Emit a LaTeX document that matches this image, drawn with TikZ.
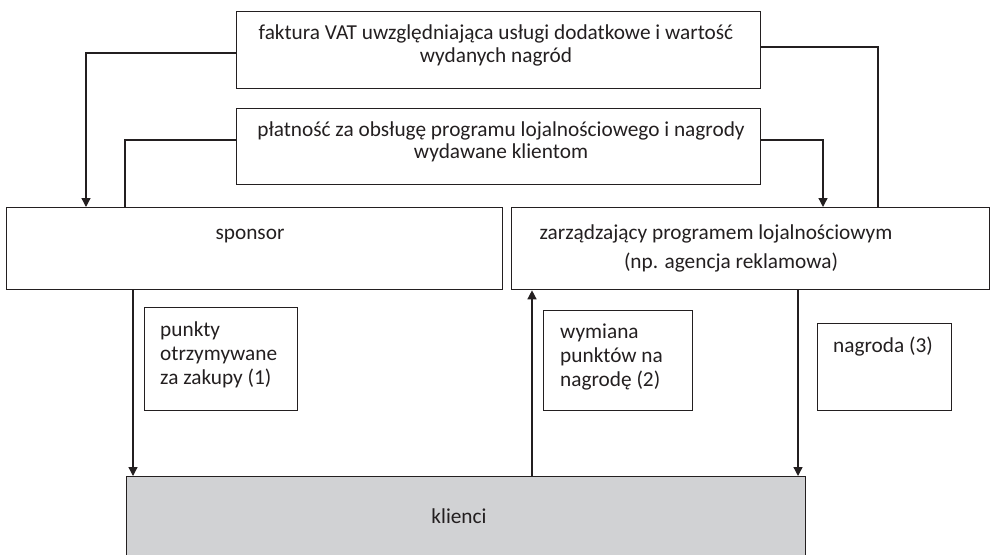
\documentclass[tikz,border=0pt]{standalone}
\usepackage{fontspec}
\setmainfont{Carlito}
\usetikzlibrary{arrows.meta, positioning}
\definecolor{inkgray}{RGB}{35, 31, 32}
\definecolor{clientgray}{RGB}{209, 210, 212}

\begin{document}
\begin{tikzpicture}[x=1pt, y=-1pt,
  box/.style={draw=inkgray, line width=1.3pt, inner sep=0pt, anchor=north west},
  txt/.style={font=\fontsize{21.3}{24}\selectfont, text=inkgray, inner sep=0pt, anchor=base},
  link/.style={draw=inkgray, line width=1.3pt},
  arr/.style={link, -{Triangle[length=9pt, width=9pt]}}]
  \useasboundingbox (0,0) rectangle (990,554);

  % Top boxes (multi-line text sits on the baseline of its last line)
  \node[box, minimum width=524pt, minimum height=77pt] (faktura) at (236,11) {};
  \node[txt, align=center] (fakturatxt) at (496,62) {faktura VAT uwzględniająca usługi dodatkowe i wartość\\[-1pt]wydanych nagród};

  \node[box, minimum width=524pt, minimum height=76pt] (platnosc) at (236,108) {};
  \node[txt, align=center] (platnosctxt) at (501,158) {płatność za obsługę programu lojalnościowego i nagrody\\[-2pt]wydawane klientom};

  % Parties
  \node[box, minimum width=496pt, minimum height=82pt] (sponsor) at (6,207) {};
  \node[txt] (sponsortxt) at (250,239) {sponsor};

  \node[box, minimum width=478pt, minimum height=82pt] (manager) at (511,207) {};
  \node[txt, align=center] (managertxt) at (716,268) {zarządzający programem lojalnościowym\\[5pt]\hspace*{30pt}(np. agencja reklamowa)};

  % Flow labels
  \node[box, minimum width=153pt, minimum height=103pt] (punkty) at (144,307) {};
  \node[txt, align=left, anchor=base west] (punktytxt) at (160,384) {punkty\\otrzymywane\\za zakupy (1)};

  \node[box, minimum width=149pt, minimum height=100pt] (wymiana) at (543,310) {};
  \node[txt, align=left, anchor=base west] (wymianatxt) at (560,386) {wymiana\\punktów na\\nagrodę (2)};

  \node[box, minimum width=134pt, minimum height=87pt] (nagroda) at (817,323) {};
  \node[txt] (nagrodatxt) at (883,352) {nagroda (3)};

  % Customers
  \node[box, fill=clientgray, minimum width=679pt, minimum height=86pt] (klienci) at (126,476) {};
  \node[txt] (kliencitxt) at (459,523) {klienci};

  % Connectors
  \draw[arr] (faktura.west |- 0,53) -| (sponsor.north -| 86,0);
  \draw[link] (sponsor.north -| 125,0) |- (platnosc.west |- 0,140);
  \draw[arr] (platnosc.east |- 0,140) -| (manager.north -| 823,0);
  \draw[link] (faktura.east |- 0,47) -| (manager.north -| 878,0);
  \draw[arr] (sponsor.south -| 133,0) -- (klienci.north -| 133,0);
  \draw[arr] (klienci.north -| 532,0) -- (manager.south -| 532,0);
  \draw[arr] (manager.south -| 798,0) -- (klienci.north -| 798,0);
\end{tikzpicture}
\end{document}
